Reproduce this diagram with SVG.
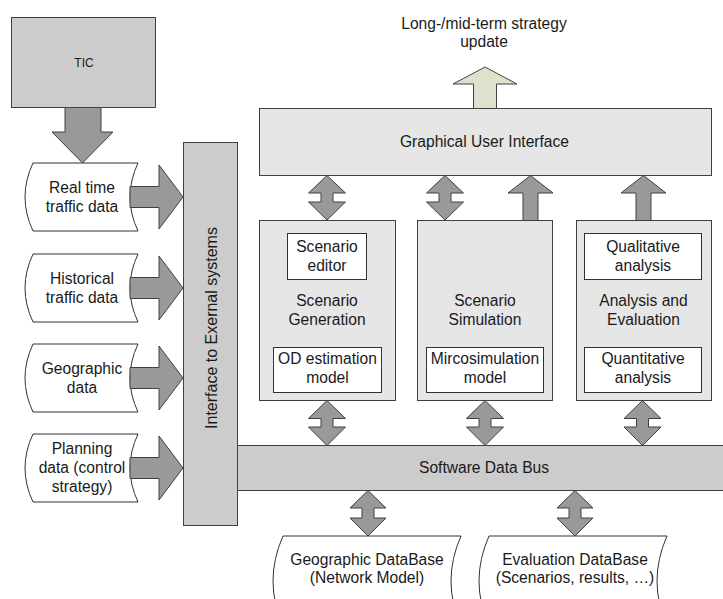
<svg xmlns="http://www.w3.org/2000/svg" width="723" height="599" viewBox="0 0 723 599">
<style>
text{font-family:"Liberation Sans",Arial,sans-serif;font-size:15.6px;fill:#1a1a1a;text-anchor:middle}
.dark{fill:#cccccc;stroke:#404040;stroke-width:1}
.light{fill:#e6e6e6;stroke:#404040;stroke-width:1}
.white{fill:#ffffff;stroke:#333333;stroke-width:1}
.arr{fill:#999999;stroke:#404040;stroke-width:1;stroke-linejoin:miter}
.green{fill:#dde2cc;stroke:#404040;stroke-width:1}
</style>
<rect width="723" height="599" fill="#ffffff"/>

<g id="tic">
<rect class="dark" x="11.5" y="17.5" width="144" height="90"/>
<text x="84" y="67" style="font-size:12px">TIC</text>
</g>

<g id="realtime">
<path class="white" d="M33,163 L138,163 Q122,197 138,231 L33,231 Q17,197 33,163 Z"/>
<text x="82" y="193">Real time</text>
<text x="82" y="212">traffic data</text>
</g>
<g id="historical">
<path class="white" d="M33,254 L138,254 Q122,288 138,322 L33,322 Q17,288 33,254 Z"/>
<text x="82" y="284">Historical</text>
<text x="82" y="303">traffic data</text>
</g>
<g id="geographic">
<path class="white" d="M33,344 L138,344 Q122,378 138,412 L33,412 Q17,378 33,344 Z"/>
<text x="82" y="374">Geographic</text>
<text x="82" y="393">data</text>
</g>
<g id="planning">
<path class="white" d="M33,434 L138,434 Q122,468 138,502 L33,502 Q17,468 33,434 Z"/>
<text x="82" y="454">Planning</text>
<text x="82" y="473">data (control</text>
<text x="82" y="492">strategy)</text>
</g>

<g id="interface">
<rect class="dark" x="183.5" y="142.5" width="54" height="383"/>
<text transform="translate(216.5,328) rotate(-90)" x="0" y="0" style="font-size:16px">Interface to Exernal systems</text>
</g>

<g id="bus">
<rect class="dark" x="237.5" y="445.5" width="490" height="45"/>
<text x="484" y="473">Software Data Bus</text>
</g>

<g id="strategy">
<text x="484" y="29">Long-/mid-term strategy</text>
<text x="484" y="47">update</text>
</g>

<g id="gui">
<rect class="light" x="259.5" y="108.5" width="452" height="67"/>
<text x="484.5" y="147">Graphical User Interface</text>
</g>

<g id="scenario-generation">
<rect class="light" x="259.5" y="220.5" width="136" height="180"/>
<text x="327" y="306">Scenario</text>
<text x="327" y="324.5">Generation</text>
</g>
<g id="scenario-editor">
<rect class="white" x="287.5" y="233.5" width="79" height="46"/>
<text x="327" y="252">Scenario</text>
<text x="327" y="271">editor</text>
</g>
<g id="od-estimation">
<rect class="white" x="273.5" y="347.5" width="108" height="45"/>
<text x="327.5" y="364">OD estimation</text>
<text x="327.5" y="383">model</text>
</g>

<g id="scenario-simulation">
<rect class="light" x="417.5" y="220.5" width="135" height="180"/>
<text x="485" y="306">Scenario</text>
<text x="485" y="324.5">Simulation</text>
</g>
<g id="microsimulation">
<rect class="white" x="426.5" y="347.5" width="117" height="45"/>
<text x="485" y="364">Mircosimulation</text>
<text x="485" y="383">model</text>
</g>

<g id="analysis-evaluation">
<rect class="light" x="576.5" y="220.5" width="135" height="180"/>
<text x="643.5" y="306">Analysis and</text>
<text x="643.5" y="324.5">Evaluation</text>
</g>
<g id="qualitative">
<rect class="white" x="584.5" y="233.5" width="117" height="46"/>
<text x="643" y="252">Qualitative</text>
<text x="643" y="271">analysis</text>
</g>
<g id="quantitative">
<rect class="white" x="584.5" y="347.5" width="117" height="45"/>
<text x="643" y="364">Quantitative</text>
<text x="643" y="383">analysis</text>
</g>

<g id="geo-database">
<path class="white" d="M283,536 L461,536 Q441,581 461,626 L283,626 Q263,581 283,536 Z"/>
<text x="367" y="565">Geographic DataBase</text>
<text x="367" y="583">(Network Model)</text>
</g>
<g id="eval-database">
<path class="white" d="M489,536 L667,536 Q647,581 667,626 L489,626 Q469,581 489,536 Z"/>
<text x="575" y="565">Evaluation DataBase</text>
<text x="575" y="583">(Scenarios, results, …)</text>
</g>

<g id="connectors">
<polygon class="arr" points="65,107.5 101,107.5 101,132 113,132 82.5,163 52,132 65,132"/>
<polygon class="arr" points="130,186.5 159,186.5 159,165 183,197 159,229 159,207.5 130,207.5"/>
<polygon class="arr" points="130,277.5 159,277.5 159,256 183,288 159,320 159,298.5 130,298.5"/>
<polygon class="arr" points="130,367.5 159,367.5 159,346 183,378 159,410 159,388.5 130,388.5"/>
<polygon class="arr" points="130,457.5 159,457.5 159,436 183,468 159,500 159,478.5 130,478.5"/>

<polygon class="green" points="485,67 517,84 496.5,84 496.5,108.5 473.5,108.5 473.5,84 453,84"/>

<polygon class="arr" points="327,175.5 345.5,193 333,193 333,202 345.5,202 327,220 308.5,202 321,202 321,193 308.5,193"/>
<polygon class="arr" points="445,175.5 463.5,193 451,193 451,202 463.5,202 445,220 426.5,202 439,202 439,193 426.5,193"/>
<polygon class="arr" points="530.5,175.5 553,193 538,193 538,220.5 523,220.5 523,193 508,193"/>
<polygon class="arr" points="643.5,175.5 666,193 651,193 651,220.5 636,220.5 636,193 621,193"/>

<polygon class="arr" points="327,400.5 345.5,418.5 333,418.5 333,427 345.5,427 327,445.5 308.5,427 321,427 321,418.5 308.5,418.5"/>
<polygon class="arr" points="485,400.5 503.5,418.5 491,418.5 491,427 503.5,427 485,445.5 466.5,427 479,427 479,418.5 466.5,418.5"/>
<polygon class="arr" points="642.5,400.5 661,418.5 648.5,418.5 648.5,427 661,427 642.5,445.5 624,427 636.5,427 636.5,418.5 624,418.5"/>

<polygon class="arr" points="368,490.5 386,508 374,508 374,518 386,518 368,536 350,518 362,518 362,508 350,508"/>
<polygon class="arr" points="575,490.5 593,508 581,508 581,518 593,518 575,536 557,518 569,518 569,508 557,508"/>
</g>
</svg>
